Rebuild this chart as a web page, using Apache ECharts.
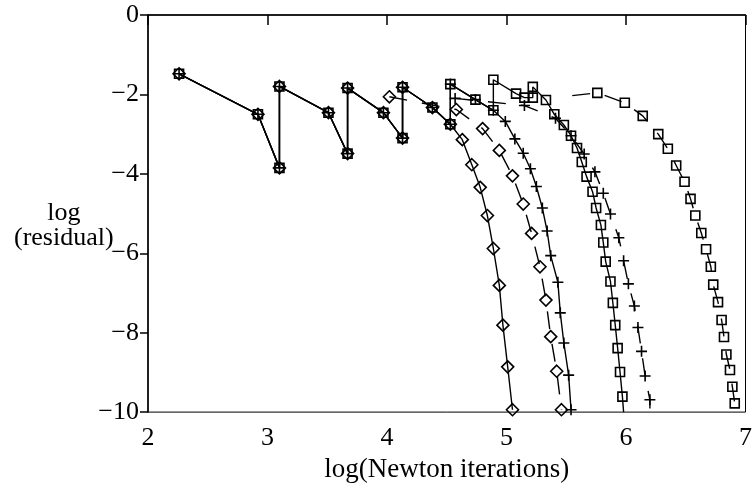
<!DOCTYPE html>
<html>
<head>
<meta charset="utf-8">
<script src="https://cdn.jsdelivr.net/npm/echarts@6/dist/echarts.min.js"></script>
<style>
html,body{margin:0;padding:0;background:#fff;}
#chart{width:755px;height:488px;}
</style>
</head>
<body>
<div id="chart"></div>
<script>
// Tick labels
const xTicks = [2, 3, 4, 5, 6, 7];
const yTicks = [0, -2, -4, -6, -8, -10];

// Shared restart ("sawtooth") phase of the solid-line runs
const sawtooth = [[2.26,-1.48],[2.92,-2.50],[3.10,-3.85],[3.10,-1.80],[3.51,-2.46],[3.67,-3.49],
  [3.67,-1.84],[3.97,-2.46],[4.13,-3.10],[4.13,-1.82],[4.38,-2.33],[4.53,-2.75]];

// Solid diamond run, after the shared phase
const diamondSolidTail = [[4.63,-3.14],[4.71,-3.77],[4.78,-4.34],[4.84,-5.05],[4.89,-5.88],
  [4.94,-6.81],[4.97,-7.81],[5.01,-8.86],[5.05,-9.94]];

// Extra restart shared by the solid plus and solid square runs
const plusSquareRestart = [[4.53,-1.74],[4.74,-2.13],[4.89,-2.40]];

// Solid plus run tail
const plusSolidTail = [[4.99,-2.68],[5.07,-3.12],[5.14,-3.48],[5.20,-3.87],[5.25,-4.32],[5.30,-4.86],
  [5.34,-5.44],[5.37,-6.06],[5.43,-6.73],[5.45,-7.50],[5.48,-8.26],[5.52,-9.07],[5.54,-9.94]];

// Solid square run tail
const squareSolidTail = [[4.89,-1.63],[5.08,-1.98],[5.15,-2.08],[5.22,-2.08],[5.22,-1.81],[5.33,-2.14],
  [5.40,-2.50],[5.48,-2.77],[5.54,-3.04],[5.59,-3.35],[5.63,-3.70],[5.67,-4.07],[5.72,-4.45],
  [5.75,-4.86],[5.79,-5.29],[5.81,-5.73],[5.83,-6.21],[5.87,-6.71],[5.89,-7.25],[5.91,-7.81],
  [5.93,-8.39],[5.95,-8.99],[5.97,-9.61]];
const squareSolidEnd = [5.98,-10];

// Dashed runs
const diamondDashed = [[4.02,-2.06],[4.58,-2.38],[4.80,-2.86],[4.94,-3.41],[5.05,-4.05],[5.14,-4.76],
  [5.21,-5.50],[5.28,-6.34],[5.33,-7.18],[5.37,-8.10],[5.42,-8.97],[5.46,-9.94]];
const plusDashed = [[4.57,-2.10],[5.15,-2.28],[5.41,-2.60],[5.54,-3.04],[5.65,-3.50],[5.74,-3.95],
  [5.81,-4.49],[5.87,-5.01],[5.94,-5.61],[5.98,-6.19],[6.02,-6.77],[6.07,-7.33],[6.10,-7.87],
  [6.13,-8.47],[6.16,-9.09],[6.20,-9.69]];
const plusDashedEnd = [6.20,-10];
const squareDashedStart = [5.55,-2.03];
const squareDashed = [[5.76,-1.96],[5.99,-2.21],[6.14,-2.54],[6.27,-3.00],[6.35,-3.37],[6.42,-3.79],
  [6.49,-4.20],[6.54,-4.63],[6.58,-5.05],[6.63,-5.49],[6.67,-5.90],[6.71,-6.34],[6.73,-6.79],
  [6.77,-7.23],[6.80,-7.68],[6.82,-8.11],[6.84,-8.55],[6.87,-8.94],[6.89,-9.36],[6.91,-9.78]];
const squareDashedEnd = [6.92,-10];

const FONT = 'Liberation Serif';
const PLUS = 'path://M0,5L10,5M5,0L5,10';
const hidden = p => ({ value: p, symbolSize: 0 });

function mk(data, symbol, size, dashed) {
  return {
    type: 'line',
    data: data,
    symbol: symbol,
    symbolSize: size,
    showSymbol: true,
    animation: false,
    silent: true,
    itemStyle: { color: 'rgba(255,255,255,0)', borderColor: '#000', borderWidth: 1.6 },
    lineStyle: { color: '#000', width: 1.4, type: dashed ? [18, 15] : 'solid' },
    z: 3
  };
}

const chart = echarts.init(document.getElementById('chart'), null, { renderer: 'canvas' });
chart.setOption({
  backgroundColor: '#fff',
  animation: false,
  grid: { left: 148, right: 2, top: 15, bottom: 73, show: true, borderColor: '#000', borderWidth: 1 },
  xAxis: {
    type: 'value', min: xTicks[0], max: xTicks[xTicks.length - 1], interval: 1,
    name: 'log(Newton iterations)', nameLocation: 'middle', nameGap: 35,
    nameTextStyle: { fontFamily: FONT, fontSize: 27, color: '#000' },
    axisLine: { lineStyle: { color: '#000', width: 1.5 } },
    axisTick: { inside: false, length: 10, lineStyle: { color: '#000', width: 1.5 } },
    axisLabel: { fontFamily: FONT, fontSize: 26, color: '#000', margin: 13 },
    splitLine: { show: false }
  },
  yAxis: {
    type: 'value', min: yTicks[yTicks.length - 1], max: yTicks[0], interval: 2,
    axisLine: { show: true, lineStyle: { color: '#000', width: 1.5 } },
    axisTick: { show: true, inside: false, length: 8, lineStyle: { color: '#000', width: 1.5 } },
    axisLabel: { fontFamily: FONT, fontSize: 26, color: '#000', margin: 9,
      formatter: v => (v < 0 ? '\u2212' + Math.abs(v) : String(v)) },
    splitLine: { show: false }
  },
  graphic: [{
    type: 'text', left: 14, top: 200,
    style: { text: 'log\n(residual)', font: '26px "Liberation Serif"', fill: '#000',
      textAlign: 'center', lineHeight: 25, x: 54, y: 0 }
  }],
  series: [
    mk(sawtooth.concat(diamondSolidTail), 'diamond', 12, false),
    mk(sawtooth.concat(plusSquareRestart, plusSolidTail), PLUS, 11, false),
    mk(sawtooth.concat(plusSquareRestart, squareSolidTail, [hidden(squareSolidEnd)]), 'rect', 9, false),
    mk(diamondDashed, 'diamond', 12, true),
    mk(plusDashed.concat([hidden(plusDashedEnd)]), PLUS, 11, true),
    mk([hidden(squareDashedStart)].concat(squareDashed, [hidden(squareDashedEnd)]), 'rect', 9, true)
  ]
});
</script>
</body>
</html>
